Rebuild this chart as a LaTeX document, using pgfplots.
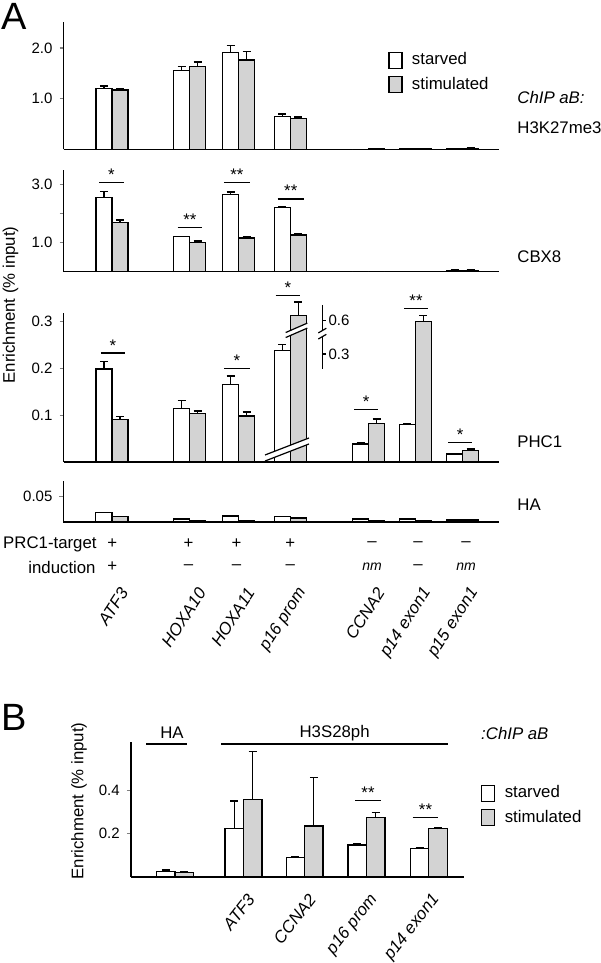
\documentclass[border=0pt]{standalone}
\usepackage{fontspec}
\setmainfont{Liberation Sans}
\usepackage{pgfplots}
\pgfplotsset{compat=1.18}

\definecolor{stim}{RGB}{211,211,211}
\newcommand{\lab}{\fontsize{8.4}{10}\selectfont}
\newcommand{\tck}{\fontsize{7.5}{9}\selectfont}
% significance bar: x1, x2, y, stars
\newcommand{\sig}[4]{\draw[line width=0.65pt] (axis cs:#1,#3) -- (axis cs:#2,#3)
  node[midway, anchor=base, yshift=1pt, inner sep=0pt, font=\lab] {#4};}

\pgfplotsset{
  panel/.style={
    scale only axis,
    axis x line*=bottom, axis y line*=left,
    axis line style={line width=0.75pt},
    ybar=0pt, bar width=8pt,
    xmin=63.5, xmax=499, width=217.75pt,
    xtick=\empty, ymin=0,
    tick align=outside, major tick length=2pt,
    ytick style={line width=0.6pt},
    tick label style={font=\tck},
    scaled y ticks=false,
    /pgf/number format/assume math mode=true,
    /pgf/number format/fixed, /pgf/number format/fixed zerofill,
    /pgf/number format/precision=1,
    clip=false,
    error bars/y dir=plus, error bars/y explicit,
    error bars/error bar style={line width=0.6pt, black},
    error bars/error mark options={rotate=90, mark size=2pt, line width=0.6pt, black},
  },
  starv/.style={draw=black, fill=white, line width=0.6pt, bar shift=-4pt},
  stimu/.style={draw=black, fill=stim, line width=0.6pt, bar shift=4pt},
  boxleg/.style={legend image code/.code={
      \draw[##1,/tikz/.cd,yshift=-4pt] (0pt,0pt) rectangle (6.5pt,8pt);
      \path[draw=none, fill=none] (0pt,0pt) rectangle (10pt,0.1pt);}},
}

\begin{document}
\begin{tikzpicture}
\useasboundingbox (0,0) rectangle (300pt,-481.5pt);

% ---------- panel A: H3K27me3 ----------
\begin{axis}[panel, at={(31.75pt,-74.75pt)}, anchor=south west,
    height=63.75pt, ymax=2.51, ytick={1,2},
    legend style={at={(0.745,0.785)}, anchor=north west, draw=none, fill=none,
      font=\lab, inner sep=0pt, row sep=1.5pt, nodes={inner sep=1.5pt}},
    legend cell align=left, boxleg]
\addplot[starv] coordinates {(111.9,1.205) +- (0,0.045) (189.6,1.551) +- (0,0.079)
  (238.5,1.906) +- (0,0.138) (290.4,0.646) +- (0,0.053) (368.5,0) +- (0,0)
  (415.4,0.01) +- (0,0) (462.7,0.015) +- (0,0.005)};
\addplot[stimu] coordinates {(111.9,1.171) +- (0,0.02) (189.6,1.638) +- (0,0.085)
  (238.5,1.762) +- (0,0.163) (290.4,0.614) +- (0,0.026) (368.5,0.01) +- (0,0.005)
  (415.4,0.01) +- (0,0) (462.7,0.02) +- (0,0.008)};
\legend{starved, stimulated}
\end{axis}

% ---------- panel A: CBX8 ----------
\begin{axis}[panel, at={(31.75pt,-135.75pt)}, anchor=south west,
    height=50.75pt, ymax=3.5, ytick={1,2,3}, yticklabels={1.0,,3.0}]
\addplot[starv] coordinates {(111.9,2.545) +- (0,0.207) (189.6,1.2) +- (0,0.02)
  (238.5,2.662) +- (0,0.08) (290.4,2.214) +- (0,0.034) (368.5,0) +- (0,0)
  (415.4,0.01) +- (0,0) (462.7,0.04) +- (0,0.01)};
\addplot[stimu] coordinates {(111.9,1.683) +- (0,0.093) (189.6,1.007) +- (0,0.045)
  (238.5,1.155) +- (0,0.034) (290.4,1.259) +- (0,0.045) (368.5,0) +- (0,0)
  (415.4,0.01) +- (0,0) (462.7,0.04) +- (0,0.01)};
\sig{99}{124}{3.076}{*}
\sig{177.7}{202}{1.524}{**}
\sig{223.8}{250}{3.076}{**}
\sig{277.7}{303.8}{2.5}{**}
\end{axis}

% ---------- panel A: PHC1 ----------
\begin{axis}[panel, at={(31.75pt,-231pt)}, anchor=south west,
    height=74.35pt, ymax=0.318, ytick={0.1,0.2,0.3}]
% p16 prom bars are drawn on the broken scale (right-hand mini axis)
\addplot[starv] coordinates {(111.9,0.199) +- (0,0.016) (189.6,0.115) +- (0,0.016)
  (238.5,0.166) +- (0,0.018) (290.4,0.238) +- (0,0.013) (368.5,0.0385) +- (0,0.004)
  (415.4,0.080) +- (0,0.002) (462.7,0.017) +- (0,0.001)};
\addplot[stimu] coordinates {(111.9,0.091) +- (0,0.007) (189.6,0.103) +- (0,0.006)
  (238.5,0.0985) +- (0,0.0086) (290.4,0.313) +- (0,0.029) (368.5,0.083) +- (0,0.009)
  (415.4,0.300) +- (0,0.013) (462.7,0.025) +- (0,0.003)};
\sig{100.8}{125}{0.233}{*}
\sig{224}{250}{0.2006}{*}
\sig{275.7}{300}{0.356}{*}
\sig{354}{378.3}{0.113}{*}
\sig{404.3}{427.7}{0.328}{**}
\sig{448}{472.3}{0.042}{*}
% axis breaks on p16 prom
\fill[white] (axis cs:265,0.015) -- (axis cs:309,0.0514) -- (axis cs:309,0.0385)
  -- (axis cs:265,0.0021) -- cycle;
\draw[line width=0.6pt] (axis cs:265,0.015) -- (axis cs:309,0.0514);
\draw[line width=0.6pt] (axis cs:265,0.0021) -- (axis cs:309,0.0385);
\fill[white] (axis cs:285.7,0.2769) -- (axis cs:307.3,0.297) -- (axis cs:307.3,0.2863)
  -- (axis cs:285.7,0.2662) -- cycle;
\draw[line width=0.6pt] (axis cs:285.7,0.2769) -- (axis cs:307.3,0.297);
\draw[line width=0.6pt] (axis cs:285.7,0.2662) -- (axis cs:307.3,0.2863);
% broken mini axis
\draw[line width=0.6pt] (axis cs:322.3,0.336) -- (axis cs:322.3,0.280);
\draw[line width=0.6pt] (axis cs:322.3,0.267) -- (axis cs:322.3,0.1985);
\draw[line width=0.6pt] (axis cs:318.3,0.276) -- (axis cs:326.3,0.286);
\draw[line width=0.6pt] (axis cs:318.3,0.263) -- (axis cs:326.3,0.273);
\draw[line width=0.6pt] (axis cs:322.3,0.302) -- (axis cs:326,0.302)
  node[anchor=west, inner sep=1pt, font=\tck] {0.6};
\draw[line width=0.6pt] (axis cs:322.3,0.231) -- (axis cs:326,0.231)
  node[anchor=west, inner sep=1pt, font=\tck] {0.3};
\end{axis}

% ---------- panel A: HA ----------
\begin{axis}[panel, at={(31.75pt,-261pt)}, anchor=south west,
    height=20.5pt, ymax=0.081, ytick={0.05},
    /pgf/number format/precision=2,
    xtick={111.9,189.6,238.5,290.4,368.5,415.4,462.7},
    xticklabels={ATF3,HOXA10,HOXA11,p16 prom,CCNA2,p14 exon1,p15 exon1},
    xtick style={draw=none},
    xticklabel style={font=\lab\itshape, xshift=8pt, yshift=-29pt, rotate=57, anchor=east}]
\addplot[starv] coordinates {(111.9,0.019) (189.6,0.006) (238.5,0.012) (290.4,0.0105)
  (368.5,0.006) (415.4,0.006) (462.7,0.004)};
\addplot[stimu] coordinates {(111.9,0.0105) (189.6,0.003) (238.5,0.003) (290.4,0.008)
  (368.5,0.003) (415.4,0.003) (462.7,0.004)};
\end{axis}

% panel A texts
\node[anchor=base west, inner sep=0pt, font=\fontsize{19}{20}\selectfont] at (0.5pt,-15pt) {A};
\node[rotate=90, font=\lab] at (5.25pt,-152.5pt) {Enrichment (\% input)};
\node[anchor=west, font=\lab\itshape, inner sep=0pt] at (258.5pt,-48.65pt) {ChIP aB:};
\node[anchor=west, font=\lab, inner sep=0pt] at (258.5pt,-63.85pt) {H3K27me3};
\node[anchor=west, font=\lab, inner sep=0pt] at (258.5pt,-128.35pt) {CBX8};
\node[anchor=west, font=\lab, inner sep=0pt] at (258.5pt,-220.85pt) {PHC1};
\node[anchor=west, font=\lab, inner sep=0pt] at (258.5pt,-252.15pt) {HA};
\node[anchor=east, font=\lab, inner sep=0pt] at (48.5pt,-272pt) {PRC1-target};
\node[anchor=east, font=\lab, inner sep=0pt] at (48pt,-283.5pt) {induction};
\foreach \x/\s in {56.15/+,94.25/+,118.25/+,145.2/+,186/--,209/--,233/--}
  \node[font=\lab, inner sep=0pt] at (\x pt,-272pt) {\s};
\foreach \x/\s in {56.15/+,94.25/--,118.25/--,145.2/--,186/{\fontsize{7}{8}\selectfont\itshape nm},209/--,233/{\fontsize{7}{8}\selectfont\itshape nm}}
  \node[font=\lab, inner sep=0pt] at (\x pt,-283.5pt) {\s};

% ---------- panel B ----------
\node[anchor=base west, inner sep=0pt, font=\fontsize{19}{20}\selectfont] at (0.5pt,-365pt) {B};
\begin{axis}[panel, at={(65.4pt,-438.5pt)}, anchor=south west,
    xmin=130.8, xmax=463.5, width=166.35pt,
    height=67.65pt, ymax=0.625, ytick={0.2,0.4},
    bar width=9.25pt,
    xtick={243.5,304.6,366.5,428.8},
    xticklabels={ATF3,CCNA2,p16 prom,p14 exon1},
    xtick style={draw=none},
    xticklabel style={font=\lab\itshape, xshift=6pt, yshift=-5pt, rotate=52, anchor=east},
    legend style={at={(1.052,0.7)}, anchor=north west, draw=none, fill=none,
      font=\lab, inner sep=0pt, row sep=1.5pt, nodes={inner sep=1.5pt}},
    legend cell align=left, boxleg]
\addplot[starv, bar shift=-4.6pt] coordinates {(175,0.024) +- (0,0.008) (243.5,0.225) +- (0,0.126)
  (304.6,0.089) +- (0,0.005) (366.5,0.148) +- (0,0.005) (428.8,0.132) +- (0,0.004)};
\addplot[stimu, bar shift=4.6pt] coordinates {(175,0.022) +- (0,0.002) (243.5,0.359) +- (0,0.22)
  (304.6,0.236) +- (0,0.222) (366.5,0.276) +- (0,0.021) (428.8,0.225) +- (0,0.003)};
\legend{starved, stimulated}
\sig{355}{381}{0.352}{**}
\sig{412.7}{438.3}{0.275}{**}
\end{axis}
\node[rotate=90, font=\lab] at (39.5pt,-400.5pt) {Enrichment (\% input)};
\node[font=\lab] at (86pt,-366.5pt) {HA};
\draw[line width=0.65pt] (73pt,-372pt) -- (93.65pt,-372pt);
\node[font=\lab] at (167.3pt,-366.5pt) {H3S28ph};
\draw[line width=0.65pt] (110.5pt,-372pt) -- (224pt,-372pt);
\node[anchor=west, font=\lab\itshape, inner sep=0pt] at (240.4pt,-366.5pt) {:ChIP aB};
\end{tikzpicture}
\end{document}
